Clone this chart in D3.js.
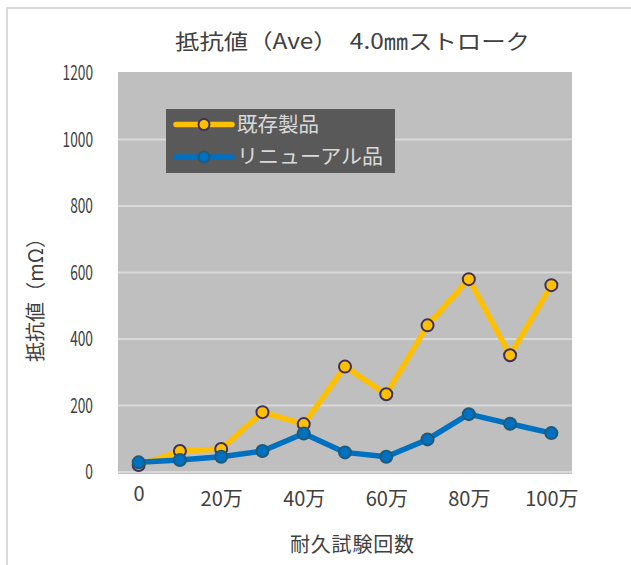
<!DOCTYPE html>
<html><head><meta charset="utf-8">
<script src="https://cdn.jsdelivr.net/npm/d3@7"></script>
<style>body{margin:0;background:#fff}svg{display:block}</style>
</head><body><svg id="c" width="631" height="565"></svg>
<script>
const categories = ["0","10万","20万","30万","40万","50万","60万","70万","80万","90万","100万"];
const tickLabels = ["0","20万","40万","60万","80万","100万"];
const existing = [21, 63, 69, 180, 144, 317, 234, 441, 580, 351, 562];
const renewal  = [29, 36, 46, 63, 116, 59, 46, 98, 174, 145, 117];
const yTicks = [0, 200, 400, 600, 800, 1000, 1200];
const seriesNames = ["既存製品", "リニューアル品"];
const titleText = "抵抗値（Ave）　4.0㎜ストローク";
const yTitle = "抵抗値（mΩ）";
const xTitle = "耐久試験回数";

const FONT = "'Noto Sans CJK JP', 'Noto Sans', sans-serif";
const TXT = "#404040";
const svg = d3.select("#c");
svg.append("rect").attr("width",631).attr("height",565).attr("fill","#fff");
// chart frame
svg.append("path").attr("d","M7,565 V8 H631").attr("fill","none").attr("stroke","#D9D9D9").attr("stroke-width",2);

const pl = 118, pr = 572, pt = 72, pb = 474;
const x = d3.scalePoint().domain(categories).range([pl, pr]).padding(0.5);
const y = d3.scaleLinear().domain([0, 1200]).range([472, 73]);

svg.append("rect").attr("x",pl).attr("y",pt).attr("width",pr-pl).attr("height",pb-pt).attr("fill","#BFBFBF");
svg.append("g").selectAll("line").data(yTicks.filter(d=>d<1200)).join("line")
  .attr("x1",pl).attr("x2",pr).attr("y1",d=>y(d)).attr("y2",d=>y(d))
  .attr("stroke","#D9D9D9").attr("stroke-width",2);

// y axis
const ya = svg.append("g").attr("transform","translate(93,0)")
  .call(d3.axisLeft(y).tickValues(yTicks).tickSize(0).tickPadding(0).tickFormat(d3.format("d")));
ya.select(".domain").remove();
ya.selectAll("text").attr("font-family",FONT).attr("font-size",20.5).attr("fill",TXT)
  .attr("transform","scale(0.67,1)");

// x axis
const xa = svg.append("g").attr("transform","translate(0,500)")
  .call(d3.axisBottom(x).tickValues(tickLabels).tickSize(0).tickPadding(0));
xa.select(".domain").remove();
xa.selectAll("text").attr("font-family",FONT).attr("font-size",20).attr("fill",TXT)
  .attr("dy", d => d === "0" ? "0.05em" : "0.32em");

// lines
const line = d3.line().x((d,i)=>x(categories[i])).y(d=>y(d));
const styles = [
  {data: existing, color:"#FFC000", stroke:"#3F2F5A"},
  {data: renewal, color:"#0070C0", stroke:"#1F5A78"}
];
styles.forEach(s=>{
  svg.append("path").datum(s.data).attr("d",line).attr("fill","none")
    .attr("stroke",s.color).attr("stroke-width",5.5).attr("stroke-linejoin","round");
  svg.append("g").selectAll("circle").data(s.data).join("circle")
    .attr("cx",(d,i)=>x(categories[i])).attr("cy",d=>y(d)).attr("r",6)
    .attr("fill",s.color).attr("stroke",s.stroke).attr("stroke-width",2);
});

// legend
svg.append("rect").attr("x",166).attr("y",109).attr("width",229).attr("height",64).attr("fill","#595959");
const legendLens = [82, 146];
styles.forEach((s,i)=>{
  const ly = 124.5 + i*32.5;
  svg.append("line").attr("x1",176).attr("x2",232).attr("y1",ly).attr("y2",ly)
    .attr("stroke",s.color).attr("stroke-width",5.5).attr("stroke-linecap","round");
  svg.append("circle").attr("cx",204).attr("cy",ly).attr("r",5.5)
    .attr("fill",s.color).attr("stroke",s.stroke).attr("stroke-width",2);
  svg.append("text").attr("x",237).attr("y",ly).attr("dy","0.35em")
    .attr("font-family",FONT).attr("font-size",20).attr("fill","#D9D9D9")
    .attr("textLength",legendLens[i]).attr("lengthAdjust","spacingAndGlyphs").text(seriesNames[i]);
});

// titles
svg.append("text").attr("x",175).attr("y",42).attr("dy","0.35em")
  .attr("font-family",FONT).attr("font-size",21).attr("fill",TXT)
  .attr("textLength",355).attr("lengthAdjust","spacingAndGlyphs").text(titleText);
svg.append("text").attr("transform","translate(36,295) rotate(-90)").attr("dy","0.35em").attr("text-anchor","middle")
  .attr("font-family",FONT).attr("font-size",20).attr("fill",TXT)
  .attr("textLength",134).attr("lengthAdjust","spacing").text(yTitle);
svg.append("text").attr("x",290).attr("y",545).attr("dy","0.35em")
  .attr("font-family",FONT).attr("font-size",20).attr("fill",TXT)
  .attr("textLength",124).attr("lengthAdjust","spacing").text(xTitle);
</script></body></html>
